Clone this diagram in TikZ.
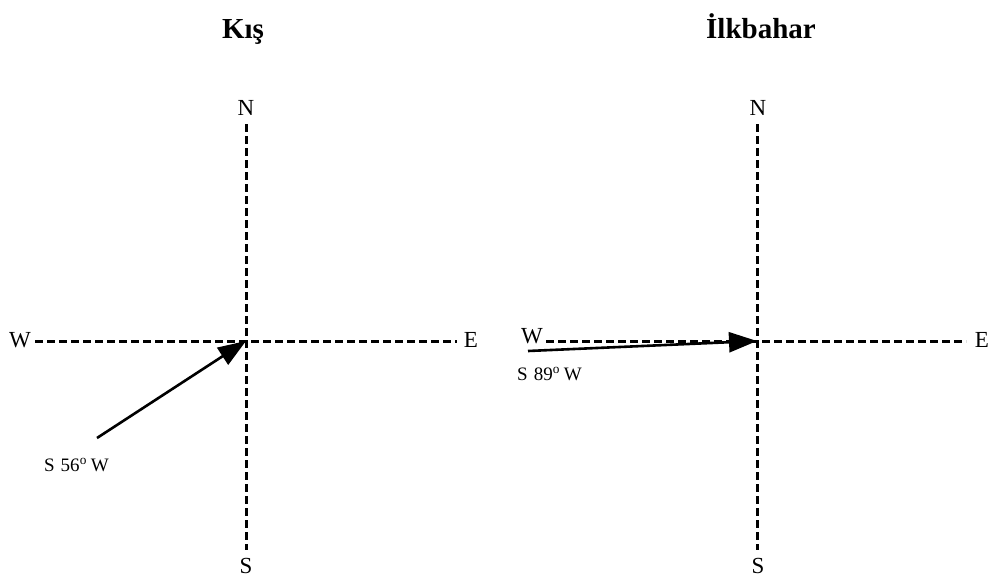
\documentclass[tikz,border=0pt]{standalone}
\usepackage{fontspec}
\setmainfont{Liberation Serif}
\usetikzlibrary{arrows.meta}
\begin{document}
\begin{tikzpicture}[x=1pt,y=-1pt,
  axis/.style={line width=3pt,dash pattern=on 8pt off 4pt},
  lbl/.style={font=\fontsize{23}{23}\selectfont,inner sep=0pt},
  small/.style={font=\fontsize{19}{19}\selectfont,inner sep=0pt,anchor=west},
  ttl/.style={font=\bfseries\fontsize{29}{29}\selectfont,inner sep=0pt,anchor=base},
  vec/.style={line width=2.6pt,-{Triangle[length=28pt,width=20pt]}}]
\useasboundingbox (0,0) rectangle (991,582);
% left
\node[ttl] (t1) at (243,38) {Kış};
\node[lbl] (n1) at (246,108) {N};
\node[lbl] (s1) at (246,566) {S};
\node[lbl] (w1) at (20,340) {W};
\node[lbl] (e1) at (471,340) {E};
\coordinate (o1) at (246,341);
\coordinate (nt1) at (246,124);
\coordinate (sb1) at (246,550);
\coordinate (wl1) at (35,341);
\coordinate (er1) at (457,341);
\draw[axis] (nt1) -- (sb1);
\draw[axis] (wl1) -- (er1);
\coordinate (a1) at (97,438);
\draw[vec] (a1) -- (o1);
\node[small] (l1) at (44,465) {S\hspace{6pt}56\textsuperscript{o}\hspace{4pt}W};
% right
\node[ttl] (t2) at (761,38) {İlkbahar};
\node[lbl] (n2) at (758,108) {N};
\node[lbl] (s2) at (758,566) {S};
\node[lbl] (w2) at (532,336) {W};
\node[lbl] (e2) at (982,340) {E};
\coordinate (o2) at (757,341);
\coordinate (nt2) at (757,124);
\coordinate (sb2) at (757,550);
\coordinate (wl2) at (546,341);
\coordinate (er2) at (966,341);
\draw[axis] (nt2) -- (sb2);
\draw[axis] (wl2) -- (er2);
\coordinate (a2) at (528,351);
\draw[vec] (a2) -- (o2);
\node[small] (l2) at (517,374) {S\hspace{6pt}89\textsuperscript{o}\hspace{4pt}W};
\end{tikzpicture}
\end{document}
